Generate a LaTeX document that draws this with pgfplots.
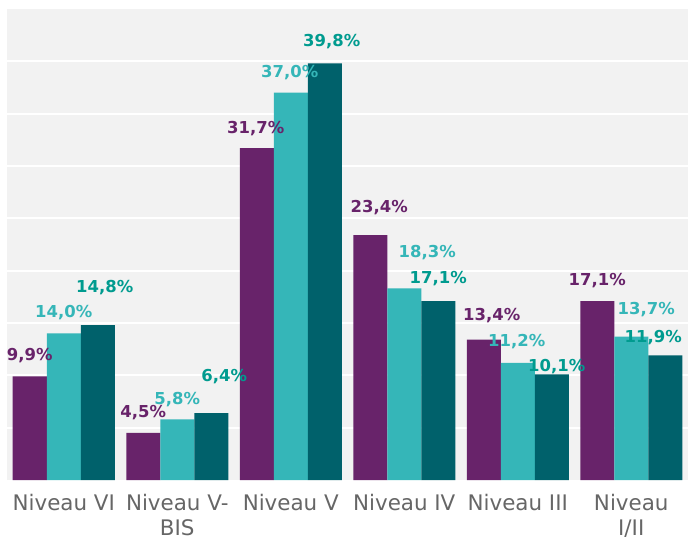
\documentclass[border=0pt]{standalone}
\usepackage{fontspec}
\setmainfont{DejaVu Sans}
\usepackage{pgfplots}
\usepackage{pgfplotstable}
\pgfplotsset{compat=1.18}
\definecolor{cpurple}{HTML}{68236A}
\definecolor{cteal}{HTML}{35B6B8}
\definecolor{cdark}{HTML}{00616B}
\definecolor{cdarklab}{HTML}{009B8F}
\definecolor{cbg}{HTML}{F2F2F2}
\definecolor{ctick}{HTML}{666666}

\pgfplotstableread{
x y dx dy
0 9.9 0 21
1 4.5 0 20
2 31.7 -1 20
3 23.4 9 28
4 13.4 8 24
5 17.1 0 20
}\seriesA
\pgfplotstableread{
x y dx dy
0 14.0 0 21
1 5.8 0 20
2 37.0 -1 20
3 18.3 23 36
4 11.2 -1 21
5 13.7 15 27
}\seriesB
\pgfplotstableread{
x y dx dy
0 14.8 7 38
1 6.4 13 36
2 39.8 7 22
3 17.1 0 22
4 10.1 5 8
5 11.9 -12 18
}\seriesC

\begin{document}
\begin{tikzpicture}
\useasboundingbox (-7bp,-64bp) rectangle (681bp,480bp);
\begin{axis}[
  at={(0,0)}, anchor=south west,
  scale only axis,
  width=681bp, height=471bp,
  ybar=0pt, bar width=34bp,
  xmin=-0.5, xmax=5.5, ymin=0, ymax=45,
  axis background/.style={fill=cbg},
  axis line style={draw=none},
  ytick={5,10,...,40}, yticklabels={},
  ymajorgrids, major grid style={white, line width=2bp},
  xtick={0,...,5},
  xticklabels={Niveau VI, Niveau V-\\BIS, Niveau V, Niveau IV, Niveau III, Niveau\\I/II},
  xticklabel style={align=center, font=\fontsize{21.5}{25.5}\selectfont, text=ctick, yshift=-13bp, inner ysep=1bp},
  major tick length=0pt,
  /pgf/number format/assume math mode=true,
  nodes near coords={\pgfmathprintnumber[fixed,fixed zerofill,precision=1,use comma]{\pgfplotspointmeta}\%},
  visualization depends on={\thisrow{dx} \as \dx},
  visualization depends on={\thisrow{dy} \as \dy},
  every node near coord/.append style={anchor=center, font=\bfseries\fontsize{16.5}{18}\selectfont, xshift=\dx bp, yshift=\dy bp},
  clip=false,
]
\addplot[fill=cpurple, draw=none, nodes near coords style={text=cpurple}] table[x=x,y=y] {\seriesA};
\addplot[fill=cteal, draw=none, nodes near coords style={text=cteal}] table[x=x,y=y] {\seriesB};
\addplot[fill=cdark, draw=none, nodes near coords style={text=cdarklab}] table[x=x,y=y] {\seriesC};
\end{axis}
\end{tikzpicture}
\end{document}
